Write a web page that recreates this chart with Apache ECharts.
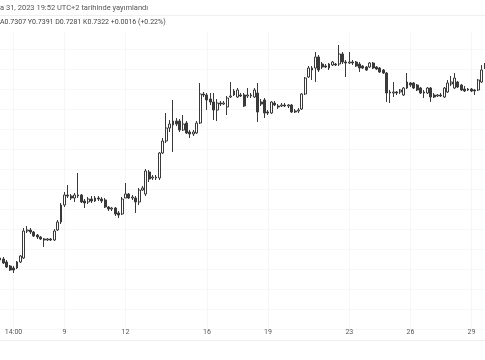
<!DOCTYPE html>
<html><head><meta charset="utf-8">
<script src="https://cdn.jsdelivr.net/npm/echarts@6/dist/echarts.min.js"></script>
<style>html,body{margin:0;padding:0;background:#fff}#c{width:485px;height:360px}</style>
</head><body><div id="c"></div>
<script>
const opens = [
0.7171,0.7170,0.7167,0.7163,0.7161,0.7161,0.7167,0.7171,0.7198,0.7199,
0.7197,0.7194,0.7192,0.7190,0.7189,0.7190,0.7189,0.7199,0.7207,0.7224,
0.7234,0.7233,0.7231,0.7233,0.7234,0.7228,0.7227,0.7230,0.7228,0.7231,
0.7230,0.7229,0.7222,0.7220,0.7221,0.7216,0.7215,0.7231,0.7235,0.7231,
0.7231,0.7227,0.7239,0.7235,0.7257,0.7251,0.7252,0.7251,0.7276,0.7288,
0.7301,0.7304,0.7308,0.7308,0.7299,0.7306,0.7297,0.7295,0.7296,0.7306,
0.7335,0.7334,0.7330,0.7327,0.7319,0.7326,0.7325,0.7322,0.7332,0.7334,
0.7332,0.7334,0.7334,0.7333,0.7334,0.7332,0.7336,0.7327,0.7329,0.7317,
0.7316,0.7326,0.7323,0.7323,0.7324,0.7323,0.7324,0.7318,0.7318,0.7320,
0.7335,0.7352,0.7361,0.7361,0.7372,0.7365,0.7363,0.7361,0.7364,0.7365,
0.7365,0.7375,0.7367,0.7366,0.7367,0.7367,0.7365,0.7363,0.7362,0.7362,
0.7366,0.7362,0.7361,0.7359,0.7356,0.7337,0.7336,0.7337,0.7337,0.7334,
0.7341,0.7346,0.7346,0.7344,0.7341,0.7337,0.7336,0.7341,0.7334,0.7333,
0.7334,0.7332,0.7337,0.7345,0.7341,0.7347,0.7344,0.7340,0.7339,0.7340,
0.7339,0.7339,0.7347,0.7361];
const closes = [
0.7169,0.7166,0.7162,0.7159,0.7159,0.7167,0.7173,0.7198,0.7199,0.7197,
0.7193,0.7192,0.7190,0.7189,0.7190,0.7189,0.7198,0.7207,0.7224,0.7234,
0.7233,0.7231,0.7234,0.7234,0.7227,0.7226,0.7230,0.7228,0.7231,0.7230,
0.7228,0.7222,0.7220,0.7221,0.7215,0.7214,0.7230,0.7235,0.7231,0.7232,
0.7227,0.7239,0.7241,0.7258,0.7250,0.7252,0.7251,0.7276,0.7288,0.7301,
0.7305,0.7308,0.7305,0.7299,0.7305,0.7296,0.7295,0.7297,0.7306,0.7335,
0.7334,0.7329,0.7327,0.7319,0.7326,0.7325,0.7326,0.7331,0.7333,0.7338,
0.7339,0.7333,0.7323,0.7334,0.7333,0.7339,0.7317,0.7325,0.7316,0.7316,
0.7327,0.7324,0.7322,0.7324,0.7323,0.7324,0.7317,0.7317,0.7319,0.7335,
0.7351,0.7361,0.7359,0.7372,0.7359,0.7362,0.7362,0.7365,0.7367,0.7364,
0.7375,0.7367,0.7366,0.7367,0.7366,0.7363,0.7361,0.7361,0.7359,0.7366,
0.7361,0.7360,0.7357,0.7356,0.7336,0.7336,0.7337,0.7336,0.7339,0.7341,
0.7347,0.7344,0.7341,0.7339,0.7336,0.7336,0.7341,0.7332,0.7332,0.7334,
0.7333,0.7341,0.7346,0.7347,0.7351,0.7342,0.7339,0.7338,0.7340,0.7338,
0.7338,0.7349,0.7359,0.7363];
const lows = [
0.7167,0.7165,0.7161,0.7158,0.7156,0.7160,0.7166,0.7170,0.7196,0.7195,
0.7192,0.7190,0.7189,0.7182,0.7188,0.7188,0.7188,0.7198,0.7205,0.7222,
0.7231,0.7229,0.7227,0.7231,0.7226,0.7221,0.7225,0.7226,0.7227,0.7228,
0.7226,0.7221,0.7218,0.7218,0.7213,0.7211,0.7214,0.7231,0.7230,0.7229,
0.7216,0.7224,0.7238,0.7233,0.7247,0.7249,0.7249,0.7249,0.7275,0.7286,
0.7297,0.7277,0.7303,0.7297,0.7298,0.7295,0.7291,0.7293,0.7295,0.7305,
0.7332,0.7319,0.7324,0.7309,0.7308,0.7323,0.7324,0.7314,0.7331,0.7333,
0.7331,0.7332,0.7322,0.7331,0.7331,0.7331,0.7307,0.7323,0.7311,0.7314,
0.7315,0.7323,0.7320,0.7322,0.7322,0.7321,0.7316,0.7316,0.7316,0.7319,
0.7334,0.7351,0.7349,0.7347,0.7357,0.7360,0.7361,0.7359,0.7363,0.7363,
0.7363,0.7365,0.7352,0.7365,0.7364,0.7362,0.7357,0.7360,0.7358,0.7361,
0.7360,0.7359,0.7356,0.7355,0.7327,0.7326,0.7332,0.7334,0.7335,0.7333,
0.7340,0.7342,0.7340,0.7338,0.7335,0.7331,0.7335,0.7327,0.7331,0.7332,
0.7332,0.7331,0.7336,0.7343,0.7340,0.7341,0.7338,0.7337,0.7338,0.7337,
0.7334,0.7338,0.7346,0.7360];
const highs = [
0.7173,0.7172,0.7169,0.7164,0.7163,0.7168,0.7174,0.7201,0.7203,0.7201,
0.7198,0.7195,0.7193,0.7191,0.7191,0.7191,0.7200,0.7209,0.7226,0.7237,
0.7244,0.7235,0.7236,0.7256,0.7235,0.7230,0.7232,0.7233,0.7233,0.7233,
0.7232,0.7231,0.7223,0.7222,0.7222,0.7218,0.7232,0.7246,0.7236,0.7234,
0.7233,0.7241,0.7243,0.7260,0.7259,0.7254,0.7254,0.7277,0.7291,0.7316,
0.7309,0.7329,0.7311,0.7310,0.7314,0.7308,0.7299,0.7299,0.7308,0.7346,
0.7337,0.7336,0.7336,0.7336,0.7330,0.7328,0.7328,0.7333,0.7347,0.7340,
0.7341,0.7336,0.7336,0.7341,0.7336,0.7341,0.7346,0.7330,0.7331,0.7319,
0.7328,0.7328,0.7325,0.7326,0.7326,0.7325,0.7325,0.7320,0.7321,0.7336,
0.7352,0.7363,0.7363,0.7377,0.7374,0.7367,0.7365,0.7366,0.7368,0.7366,
0.7384,0.7377,0.7369,0.7377,0.7369,0.7368,0.7367,0.7364,0.7363,0.7367,
0.7367,0.7363,0.7362,0.7360,0.7357,0.7339,0.7347,0.7338,0.7340,0.7342,
0.7356,0.7347,0.7347,0.7345,0.7342,0.7339,0.7342,0.7342,0.7336,0.7335,
0.7336,0.7342,0.7349,0.7353,0.7356,0.7348,0.7345,0.7343,0.7341,0.7341,
0.7340,0.7350,0.7364,0.7366];
const tickIndex = [4, 19, 37, 61, 79, 103, 121, 139];
const tickLabels = ['14:00', '9', '12', '16', '19', '23', '26', '29'];
const headerLine1 = 'a 31, 2023 19:52 UTC+2 tarihinde yayımlandı';
const headerLine2 = 'A0.7307 Y0.7391 D0.7281 K0.7322 +0.0016 (+0.22%)';

const categories = opens.map((_, i) => String(i));
const ohlc = opens.map((o, i) => [o, closes[i], lows[i], highs[i]]);
const isTick = (i) => tickIndex.indexOf(i) >= 0;

const chart = echarts.init(document.getElementById('c'), null, {renderer: 'canvas'});
chart.setOption({
  animation: false,
  backgroundColor: '#ffffff',
  grid: {left: 0, right: 0, top: 0, bottom: 31},
  xAxis: {
    type: 'category',
    data: categories,
    boundaryGap: false,
    axisLine: {show: false},
    axisTick: {show: false},
    axisLabel: {
      interval: (i) => isTick(i),
      formatter: (v, i) => isTick(i) ? tickLabels[tickIndex.indexOf(i)] : '',
      margin: 0,
      fontSize: 7,
      fontFamily: 'Roboto',
      color: '#555555'
    },
    splitLine: {show: true, interval: (i) => isTick(i), lineStyle: {color: '#f5f6f8', width: 1}}
  },
  yAxis: {
    type: 'value',
    min: 0.7100,
    max: 0.7429,
    interval: 0.002,
    axisLine: {show: false},
    axisTick: {show: false},
    axisLabel: {show: false},
    splitLine: {show: true, lineStyle: {color: '#f6f7f9', width: 1}}
  },
  series: [{
    type: 'candlestick',
    data: ohlc,
    barWidth: 2.4,
    itemStyle: {
      color: '#ffffff',
      borderColor: '#3a3a3a',
      color0: '#3a3a3a',
      borderColor0: '#3a3a3a',
      borderColorDoji: '#3a3a3a',
      borderWidth: 1
    }
  }],
  graphic: [
    {type: 'rect', left: 0, top: 0, shape: {width: 485, height: 31}, style: {fill: '#ffffff'}, z: 10},
    {type: 'text', left: 0, top: 4, style: {text: headerLine1, fontSize: 7.5, fontFamily: 'Roboto', fill: '#555555'}, z: 11},
    {type: 'line', shape: {x1: 0, y1: 15.5, x2: 485, y2: 15.5}, style: {stroke: '#f0f0f0', lineWidth: 1}, z: 11},
    {type: 'text', left: 0, top: 19, style: {text: headerLine2, fontSize: 7, fontFamily: 'Roboto', fill: '#444444'}, z: 11},
    {type: 'line', shape: {x1: 0, y1: 340.5, x2: 485, y2: 340.5}, style: {stroke: '#eeeeee', lineWidth: 1}, z: 11}
  ]
});
</script>
</body></html>
